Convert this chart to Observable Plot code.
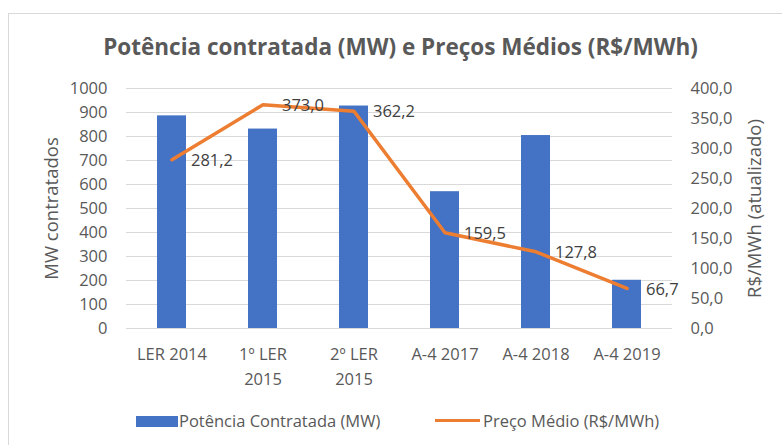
<!DOCTYPE html>
<html>
<head>
<meta charset="utf-8">
<script src="https://cdn.jsdelivr.net/npm/d3@7"></script>
<script src="https://cdn.jsdelivr.net/npm/@observablehq/plot@0.6"></script>
<style>
  html, body { margin: 0; padding: 0; background: #fff; }
  #wrap { position: relative; width: 782px; height: 445px; overflow: hidden; font-family: "Open Sans", sans-serif; color: #595959; }
  #frame { position: absolute; left: 8px; top: 13px; width: 820px; height: 500px; border: 1px solid #d9d9d9; box-sizing: border-box; }
  #title { position: absolute; left: 0; top: 0; width: 801px; height: 70px; line-height: 94px; text-align: center; font-size: 22.5px; font-weight: 700; color: #595959; white-space: nowrap; }
  #chart { position: absolute; left: 0; top: 70px; }
  #legend { position: absolute; left: 0; top: 400px; width: 782px; height: 45px; font-size: 16.5px; color: #595959; }
  .sw { position: absolute; }
  .lt { position: absolute; top: 9px; line-height: 24px; white-space: nowrap; }
</style>
</head>
<body>
<div id="wrap">
  <div id="frame"></div>
  <div id="title">Potência contratada (MW) e Preços Médios (R$/MWh)</div>
  <div id="chart"></div>
  <div id="legend">
    <div class="sw" style="left:136px; top:16px; width:42px; height:11px; background:#4472C4"></div>
    <div class="lt" style="left:179px">Potência Contratada (MW)</div>
    <div class="sw" style="left:435px; top:19px; width:45px; height:3px; background:#ED7D31"></div>
    <div class="lt" style="left:483px">Preço Médio (R$/MWh)</div>
  </div>
</div>
<script>
const categories = ["LER 2014", "1º LER\n2015", "2º LER\n2015", "A-4 2017", "A-4 2018", "A-4 2019"];
const potenciaMW = [886, 831, 927, 570, 804, 201];
const precoMedio = [281.2, 373.0, 362.2, 159.5, 127.8, 66.7];
const leftTicks = [0, 100, 200, 300, 400, 500, 600, 700, 800, 900, 1000];
const rightTicks = [0, 50, 100, 150, 200, 250, 300, 350, 400];

const leftMax = 1000, rightMax = 400;
const k = leftMax / rightMax;
const fmt = v => v.toFixed(1).replace(".", ",");

const data = categories.map((c, i) => ({cat: c, mw: potenciaMW[i], price: precoMedio[i]}));

const fs = 16.5;
const plot = Plot.plot({
  width: 782,
  height: 330,
  marginTop: 18,
  marginBottom: 72,
  marginLeft: 126,
  marginRight: 110,
  style: {fontFamily: "'Open Sans', sans-serif", fontSize: fs + "px", color: "#595959", background: "transparent"},
  x: {domain: categories, paddingInner: 0.68, paddingOuter: 0.34},
  y: {domain: [0, leftMax]},
  marks: [
    Plot.gridY(leftTicks, {stroke: "#d9d9d9", strokeOpacity: 1, strokeWidth: 1}),
    Plot.barY(data, {x: "cat", y: "mw", fill: "#4472C4"}),
    Plot.line(data, {x: "cat", y: d => d.price * k, stroke: "#ED7D31", strokeWidth: 3.5, strokeLinejoin: "round", strokeLinecap: "round"}),
    Plot.text(data, {x: "cat", y: d => d.price * k, text: d => fmt(d.price), dx: 19, dy: 1, textAnchor: "start", fill: "#404040", fontSize: fs}),
    Plot.axisX({tickSize: 0, tickPadding: 14, lineHeight: 1.5, fontSize: fs, label: null, fill: "#595959"}),
    Plot.axisY(leftTicks, {anchor: "left", tickSize: 0, tickPadding: 19, label: null, tickFormat: d => String(d), fontSize: fs, fill: "#595959"}),
    Plot.axisY(rightTicks.map(v => v * k), {anchor: "right", tickSize: 0, tickPadding: 18, label: null, tickFormat: v => fmt(v / k), fontSize: fs, fill: "#595959"}),
    Plot.text(["MW contratados"], {frameAnchor: "left", textAnchor: "middle", rotate: -90, dx: -74, fontSize: 18.5, fill: "#595959"}),
    Plot.text(["R$/MWh (atualizado)"], {frameAnchor: "right", textAnchor: "middle", rotate: -90, dx: 83, fontSize: 18.5, fill: "#595959"})
  ]
});
document.getElementById("chart").appendChild(plot);
</script>
</body>
</html>
